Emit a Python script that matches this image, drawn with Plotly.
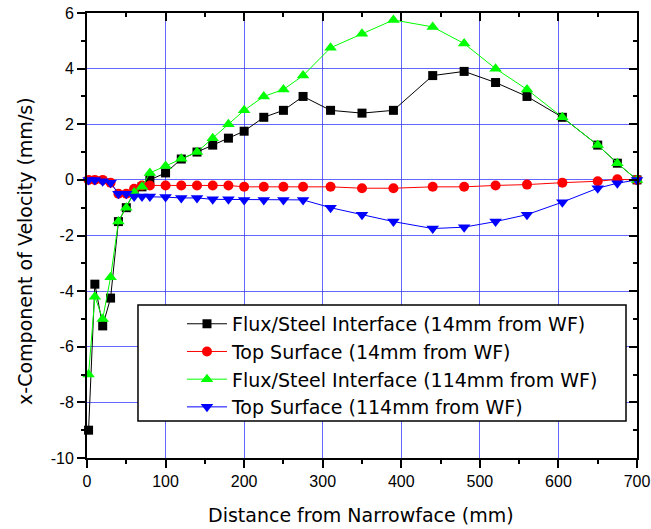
import plotly.graph_objects as go

# Distance from narrowface (mm)
distance = [2, 10, 20, 30, 40, 50, 60, 70, 80, 100, 120, 140, 160, 180, 200,
            225, 250, 275, 310, 350, 390, 440, 480, 520, 560, 605, 650, 675, 700]

flux_14 = [-9.0, -3.75, -5.25, -4.25, -1.5, -1.0, -0.45, -0.25, 0.0, 0.25, 0.75, 1.0, 1.25, 1.5, 1.75,
           2.25, 2.5, 3.0, 2.5, 2.4, 2.5, 3.75, 3.9, 3.5, 3.0, 2.25, 1.25, 0.6, 0.0]
top_14 = [0.0, 0.0, 0.0, -0.1, -0.5, -0.5, -0.32, -0.2, -0.2, -0.2, -0.2, -0.2, -0.2, -0.2, -0.25,
          -0.25, -0.25, -0.25, -0.25, -0.3, -0.3, -0.25, -0.25, -0.2, -0.17, -0.1, -0.05, 0.02, 0.0]
flux_114 = [-7.0, -4.2, -5.0, -3.5, -1.5, -1.0, -0.45, -0.25, 0.25, 0.5, 0.76, 1.0, 1.5, 2.0, 2.5,
            3.0, 3.25, 3.75, 4.75, 5.25, 5.75, 5.5, 4.9, 4.0, 3.25, 2.25, 1.25, 0.6, 0.0]
top_114 = [0.0, 0.0, -0.05, -0.1, -0.5, -0.5, -0.6, -0.6, -0.6, -0.62, -0.65, -0.65, -0.7, -0.7, -0.72,
           -0.72, -0.72, -0.72, -1.0, -1.25, -1.5, -1.75, -1.7, -1.5, -1.25, -0.8, -0.3, -0.12, 0.0]

names = ["Flux/Steel Interface (14mm from WF)", "Top Surface (14mm from WF)",
         "Flux/Steel Interface (114mm from WF)", "Top Surface (114mm from WF)"]

x_ticks = [0, 100, 200, 300, 400, 500, 600, 700]
x_ticktext = ["0", "100", "200", "300", "400", "500", "600", "700"]
y_ticks = [-10, -8, -6, -4, -2, 0, 2, 4, 6]
y_ticktext = ["-10", "-8", "-6", "-4", "-2", "0", "2", "4", "6"]

x_title = "Distance from Narrowface (mm)"
y_title = "x-Component of Velocity (mm/s)"

TICK_FONT = "Liberation Sans, Arial, sans-serif"
TEXT_FONT = "DejaVu Sans, sans-serif"

fig = go.Figure()
series = [
    (flux_14, "#000000", "square", 9),
    (top_14, "#ff0000", "circle", 10),
    (flux_114, "#00ff00", "triangle-up", 11),
    (top_114, "#0000ff", "triangle-down", 11),
]
for i, (vals, col, sym, sz) in enumerate(series):
    fig.add_trace(go.Scatter(
        x=distance, y=vals, name=names[i], mode="lines+markers",
        line=dict(color=col, width=1),
        marker=dict(color=col, symbol=sym, size=sz, line=dict(width=0)),
        cliponaxis=False,
    ))

# invisible trace to carry the mirrored (top/right) axes
fig.add_trace(go.Scatter(x=distance, y=flux_14, xaxis="x2", yaxis="y2", mode="lines",
                         opacity=0, showlegend=False, hoverinfo="skip"))

grid_col = "rgba(50,50,255,0.75)"
common = dict(tickwidth=1.5, tickcolor="black", showline=True, linecolor="black",
              linewidth=2, zeroline=False, automargin=False)
fig.update_layout(
    width=651, height=529,
    margin=dict(l=87, r=14, t=13, b=71),
    paper_bgcolor="white", plot_bgcolor="white",
    font=dict(family=TICK_FONT, size=16, color="black"),
    showlegend=True,
    legend=dict(x=0.1727, y=0.344, xanchor="left", yanchor="top",
                borderwidth=0, bgcolor="rgba(0,0,0,0)",
                font=dict(family=TEXT_FONT, size=19), itemwidth=40),
    xaxis=dict(range=[0, 700], tickvals=x_ticks, ticktext=x_ticktext, ticks="outside", ticklen=8,
               showgrid=True, gridcolor=grid_col, gridwidth=1,
               minor=dict(dtick=50, ticks="outside", ticklen=4, tickwidth=1.5, tickcolor="black", showgrid=False),
               tickfont=dict(size=16), **common),
    yaxis=dict(range=[-10, 6], tickvals=y_ticks, ticktext=y_ticktext, ticks="outside", ticklen=8,
               showgrid=True, gridcolor=grid_col, gridwidth=1,
               minor=dict(dtick=1, ticks="outside", ticklen=4, tickwidth=1.5, tickcolor="black", showgrid=False),
               tickfont=dict(size=16), **common),
    xaxis2=dict(range=[0, 700], overlaying="x", side="top", anchor="y2", tickvals=x_ticks,
                ticks="inside", ticklen=8, showticklabels=False, showgrid=False,
                minor=dict(dtick=50, ticks="inside", ticklen=4, tickwidth=1.5, tickcolor="black"), **common),
    yaxis2=dict(range=[-10, 6], overlaying="y", side="right", anchor="x2", tickvals=y_ticks,
                ticks="inside", ticklen=8, showticklabels=False, showgrid=False,
                minor=dict(dtick=1, ticks="inside", ticklen=4, tickwidth=1.5, tickcolor="black"), **common),
    shapes=[
        # legend frame (drawn as a shape so it can be wider than plotly's own legend box)
        dict(type="rect", xref="paper", yref="paper", x0=0.0927, x1=0.98, y0=0.0832, y1=0.344,
             fillcolor="white", line=dict(color="black", width=1.5), layer="above"),
    ],
    annotations=[
        dict(text=x_title, xref="paper", yref="paper", x=0.498, y=-0.128,
             xanchor="center", yanchor="middle", showarrow=False,
             font=dict(family=TEXT_FONT, size=19)),
        dict(text=y_title, xref="paper", yref="paper", x=-0.113, y=0.465,
             xanchor="center", yanchor="middle", showarrow=False, textangle=-90,
             font=dict(family=TEXT_FONT, size=19)),
    ],
)

fig.write_html("out.html", config={"displayModeBar": False},
               post_script="document.body.style.margin='0px';")
